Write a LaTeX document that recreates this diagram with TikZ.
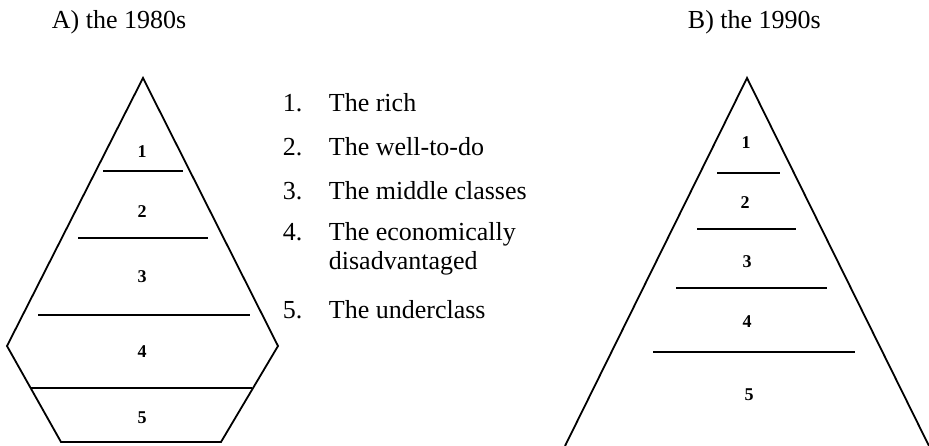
\documentclass[tikz,border=0pt]{standalone}
\usepackage{fontspec}
\setmainfont{Liberation Serif}
\usetikzlibrary{positioning}

\begin{document}
\begin{tikzpicture}[x=1pt,y=-1pt,line width=1.8pt,
  layer/.style={inner sep=0pt,font=\fontsize{18}{18}\selectfont\bfseries},
  entry/.style={anchor=base west,inner sep=0pt,font=\fontsize{26}{29}\selectfont}]
\useasboundingbox (0,0) rectangle (929,446);
% headings
\node[entry] (ha) at (51,29) {A) the 1980s};
\node[entry] (hb) at (687,29) {B) the 1990s};
% A) the 1980s
\coordinate (a0) at (143,78);
\coordinate (a1) at (7,346);
\coordinate (a2) at (61,442);
\coordinate (a3) at (221,442);
\coordinate (a4) at (278,346);
\draw (a0) -- (a1) -- (a2) -- (a3) -- (a4) -- cycle;
\foreach \y/\xa/\xb in {171/103/183, 238/78/208, 315/38/250, 388/31/252}
  \draw (\xa,\y) -- (\xb,\y);
\node[layer] (a-1) at (142,152) {1};
\node[layer] (a-2) at (142,212) {2};
\node[layer] (a-3) at (142,277) {3};
\node[layer] (a-4) at (142,352) {4};
\node[layer] (a-5) at (142,418) {5};
% list
\node[entry] (n1) at (282,112) {1.};
\node[entry] (t1) at (328,112) {The rich};
\node[entry] (n2) at (282,156) {2.};
\node[entry] (t2) at (328,156) {The well-to-do};
\node[entry] (n3) at (282,200) {3.};
\node[entry] (t3) at (328,200) {The middle classes};
\node[entry] (n4) at (282,241) {4.};
\node[entry] (t4) at (328,241) {The economically};
\node[entry] (t4b) at (328,270) {disadvantaged};
\node[entry] (n5) at (282,319) {5.};
\node[entry] (t5) at (328,319) {The underclass};
% B) the 1990s
\coordinate (b0) at (747,78);
\coordinate (b1) at (565,446);
\coordinate (b2) at (929,446);
\draw (b1) -- (b0) -- (b2);
\foreach \y/\xa/\xb in {173/717/780, 229/697/796, 288/676/827, 352/653/855}
  \draw (\xa,\y) -- (\xb,\y);
\node[layer] (b-1) at (746,143) {1};
\node[layer] (b-2) at (745,203) {2};
\node[layer] (b-3) at (747,262) {3};
\node[layer] (b-4) at (747,322) {4};
\node[layer] (b-5) at (749,395) {5};
\end{tikzpicture}
\end{document}
